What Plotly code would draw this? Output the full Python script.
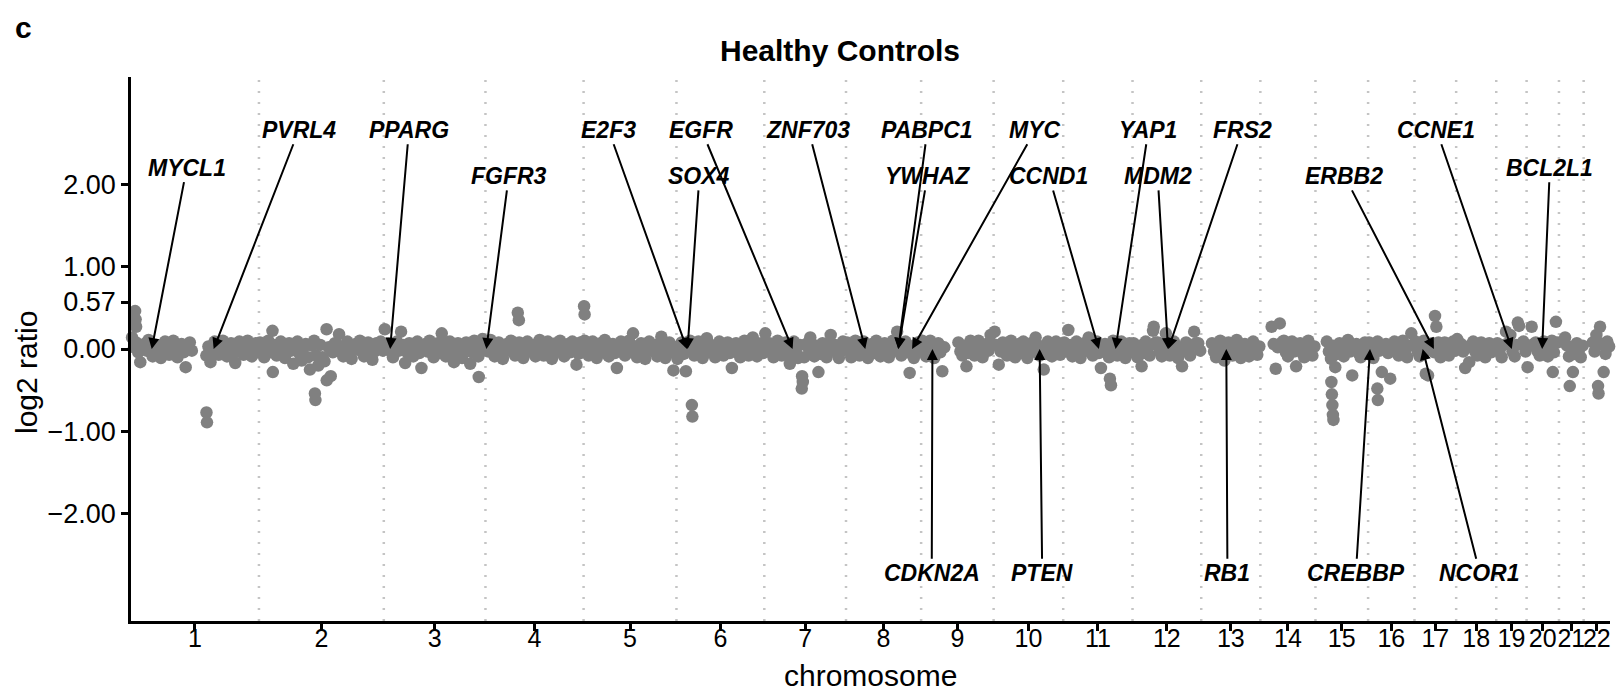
import plotly.graph_objects as go

# ---------------- data ----------------
chrom_names = [str(i) for i in range(1, 23)]
chrom_len_mb = [249.25, 243.20, 198.02, 191.15, 180.92, 171.12, 159.14, 146.36,
                141.21, 135.53, 135.01, 133.85, 115.17, 107.35, 102.53, 90.35,
                81.20, 78.08, 59.13, 63.03, 48.13, 51.30]
data_start_mb = [0, 0, 0, 0, 0, 0, 0, 0, 0, 0, 0, 0, 19, 20, 20, 0, 0, 0, 0, 0, 10, 16]

# binned log2 ratios read along each chromosome (None = no data)
chr1_vals = [0.14, 0.08, -0.16, 0.06, 0.11, -0.09, 0.05, -0.11, 0.09, -0.07, 0.10, -0.10, 0.06,
             -0.22, 0.08, None, None, None, -0.08, -0.16, 0.09, -0.07, 0.10, -0.09, 0.07, -0.17,
             0.09, -0.07, 0.10, -0.09, 0.07]
chr2_vals = [0.08, -0.10, 0.10, 0.22, -0.08, 0.09, -0.11, 0.07, -0.18, 0.09, -0.14, 0.06, -0.25,
             0.10, -0.20, -0.10, 0.24, -0.33, 0.07, 0.18, -0.09, 0.09, -0.12, 0.06, 0.10, -0.09,
             0.08, -0.13, 0.07, 0.09]
chr3_vals = [0.24, 0.07, -0.10, 0.09, 0.21, -0.17, 0.07, -0.09, 0.09, -0.23, 0.06, 0.10, -0.10,
             0.07, 0.19, -0.09, 0.09, -0.16, 0.07, -0.11, 0.08, -0.18, 0.10, -0.09, 0.12]
chr4_vals = [0.08, 0.11, -0.09, 0.08, -0.12, 0.06, 0.10, -0.08, 0.08, -0.11, 0.09, 0.05, -0.09,
             0.11, -0.08, 0.09, -0.12, 0.07, 0.10, -0.09, 0.06, 0.09, -0.19, 0.08]
chr5_vals = [0.10, -0.08, 0.09, -0.11, 0.07, 0.11, -0.09, 0.06, -0.23, 0.09, -0.08, 0.10, 0.19,
             -0.10, 0.07, -0.12, 0.09, 0.05, -0.09, 0.15, -0.11, 0.08, -0.26]
chr6_vals = [-0.12, 0.08, -0.27, 0.10, -0.08, 0.09, -0.11, 0.13, 0.05, -0.10, 0.09, -0.08, 0.08,
             -0.23, 0.07, -0.10, 0.10, -0.08, 0.14, -0.09, 0.07]
chr7_vals = [0.19, 0.07, -0.10, 0.10, -0.08, 0.08, -0.18, 0.09, -0.11, -0.33, 0.06, 0.14, -0.09,
             -0.28, 0.07, -0.10, 0.17, 0.05, -0.11, 0.09]
chr8_vals = [0.08, -0.10, 0.10, -0.08, 0.09, -0.11, 0.06, 0.10, -0.09, 0.07, -0.10, 0.10, 0.21,
             -0.08, 0.09, -0.29, -0.11, 0.08]
chr9_vals = [0.10, -0.09, 0.10, -0.11, 0.07, -0.27, None, None, None, 0.08, -0.08, -0.21, 0.10,
             -0.08, 0.10, -0.10, 0.06, 0.17]
chr10_vals = [0.21, -0.19, 0.08, -0.08, 0.10, -0.10, 0.06, 0.09, -0.11, 0.07, 0.14, -0.08, -0.25,
              0.09, -0.09, 0.09, -0.07]
chr11_vals = [0.08, 0.23, -0.09, 0.09, -0.11, 0.07, 0.14, -0.08, 0.09, -0.23, 0.06, -0.10, 0.10,
              -0.08, 0.09, -0.11, 0.07]
chr12_vals = [0.07, -0.10, -0.21, 0.09, -0.08, 0.27, 0.08, -0.09, 0.19, -0.08, 0.09, -0.11, -0.21,
              0.08, -0.08, 0.21, 0.07]
chr13_vals = [0.07, -0.10, 0.10, -0.14, 0.08, -0.08, 0.11, -0.11, 0.06, -0.09, 0.09, -0.07]
chr14_vals = [0.27, -0.24, 0.31, 0.10, -0.09, 0.09, -0.21, 0.07, -0.10, 0.10, -0.08]
chr15_vals = [0.09, -0.12, -0.22, 0.07, -0.09, 0.11, -0.32, 0.06, -0.10, 0.08]
chr16_vals = [0.08, -0.11, 0.09, -0.28, 0.06, -0.36, 0.09, -0.08, 0.10, -0.10, 0.19]
chr17_vals = [0.09, -0.09, 0.10, -0.32, 0.07, 0.27, -0.10, 0.08, -0.08, 0.09]
chr18_vals = [0.12, 0.06, -0.23, -0.16, 0.09, -0.08, 0.08, -0.10, 0.07, 0.05]
chr19_vals = [0.07, -0.10, 0.21, 0.17, -0.09, 0.28, 0.09]
chr20_vals = [-0.22, 0.27, 0.08, -0.08, 0.09, -0.09, 0.10, 0.33]
chr21_vals = [0.14, -0.09, -0.28, 0.07, -0.10]
chr22_vals = [0.08, 0.17, 0.27, -0.28, 0.09]

# finer core readings between the bins above (near-zero body of the band)
chr1_core = [0.02, -0.04, 0.05, -0.02, 0.03, -0.06, 0.04, -0.01, 0.02, -0.05, 0.03, 0.00, -0.04,
             0.05, -0.02, None, None, None, 0.03, -0.05, 0.02, 0.04, -0.03, 0.01, -0.06, 0.04,
             -0.02, 0.05, -0.03, 0.02, -0.04]
chr2_core = [-0.02, 0.03, -0.04, 0.05, 0.01, -0.05, 0.04, -0.02, 0.03, -0.06, 0.02, -0.10, 0.04,
             -0.08, 0.05, -0.15, 0.02, -0.04, 0.06, -0.02, 0.03, -0.05, 0.04, -0.01, 0.03, -0.05,
             0.02, -0.03, 0.05, -0.02]
chr3_core = [0.06, -0.03, 0.04, -0.02, 0.05, -0.04, 0.02, 0.06, -0.05, 0.03, -0.03, 0.04, 0.01,
             -0.05, 0.06, -0.02, 0.03, -0.05, 0.04, -0.02, 0.02, -0.04, 0.05, -0.03, 0.02]
chr4_core = [-0.03, 0.04, 0.02, -0.05, 0.03, -0.02, 0.05, -0.04, 0.02, 0.04, -0.03, 0.05, -0.02,
             0.03, -0.05, 0.02, 0.04, -0.03, 0.01, 0.05, -0.04, 0.02, -0.06, 0.03]
chr5_core = [0.03, 0.05, -0.03, 0.02, -0.04, 0.05, 0.02, -0.05, 0.03, -0.02, 0.05, -0.04, 0.03,
             0.02, -0.05, 0.04, -0.02, 0.05, -0.03, 0.02, 0.04, -0.04, 0.02]
chr6_core = [0.03, -0.06, 0.02, -0.03, 0.05, -0.02, 0.04, -0.04, 0.02, 0.05, -0.03, 0.03, -0.05,
             0.02, -0.04, 0.05, -0.02, 0.04, -0.03, 0.02, -0.05]
chr7_core = [0.05, -0.03, 0.04, -0.05, 0.02, -0.08, 0.03, -0.04, 0.05, -0.10, 0.02, -0.03, 0.04,
             -0.06, 0.03, 0.05, -0.02, 0.04, -0.03, 0.02]
chr8_core = [-0.02, 0.04, -0.04, 0.05, -0.02, 0.03, -0.05, 0.02, 0.04, -0.03, 0.05, -0.02, 0.06,
             0.02, -0.04, 0.03, 0.05, -0.03]
chr9_core = [-0.03, 0.04, -0.02, 0.05, -0.04, 0.02, None, None, None, -0.03, 0.04, -0.05, 0.02,
             0.05, -0.03, 0.04, -0.02, 0.05]
chr10_core = [0.05, -0.03, 0.02, 0.05, -0.04, 0.03, -0.05, 0.02, 0.04, -0.03, 0.05, -0.02, -0.06,
              0.03, 0.05, -0.03, 0.02]
chr11_core = [-0.03, 0.05, 0.02, -0.04, 0.03, -0.02, 0.05, 0.02, -0.05, 0.03, -0.03, 0.04, -0.02,
              0.05, -0.03, 0.02, -0.04]
chr12_core = [-0.02, 0.04, -0.05, 0.03, 0.05, 0.08, -0.03, 0.04, 0.06, -0.02, 0.03, -0.05, 0.02,
              -0.03, 0.05, 0.07, -0.02]
chr13_core = [-0.03, 0.05, -0.02, 0.03, -0.05, 0.04, -0.02, 0.03, -0.04, 0.05, -0.02, 0.03]
chr14_core = [0.06, 0.02, 0.08, -0.04, 0.03, -0.03, 0.02, -0.05, 0.04, -0.02, 0.03]
chr15_core = [-0.03, 0.04, -0.06, 0.02, 0.05, -0.03, 0.02, -0.05, 0.03, -0.02]
chr16_core = [-0.03, 0.04, -0.02, 0.02, -0.05, 0.03, -0.03, 0.05, -0.02, 0.04, 0.05]
chr17_core = [-0.03, 0.04, -0.02, 0.03, -0.04, 0.08, 0.02, -0.04, 0.05, -0.02]
chr18_core = [0.04, -0.03, 0.02, 0.05, -0.03, 0.03, -0.02, 0.04, -0.04, 0.05]
chr19_core = [-0.02, 0.05, 0.07, -0.03, 0.05, 0.06, -0.03]
chr20_core = [0.04, 0.06, -0.03, 0.04, -0.02, 0.05, -0.04, 0.08]
chr21_core = [0.04, 0.02, -0.06, -0.02, 0.04]
chr22_core = [-0.03, 0.05, 0.06, -0.06, 0.03]

# individual outlying bins: chromosome, position (Mb), log2 ratio
outlier_chrom = [1, 1, 1, 1, 1, 2, 2, 2, 2, 3, 4, 4, 5, 5, 6, 6, 7, 7, 11, 11, 12,
                 15, 15, 15, 15, 15, 16, 16, 17, 17, 19, 20, 21, 22, 22]
outlier_mb = [8, 9, 10, 147, 148, 27, 109, 110, 132, 185, 63, 65, 1, 2, 30, 31, 73, 75, 91, 93, 40,
              31, 32, 33, 34, 35, 18, 19, 40, 22, 42, 51, 21, 28, 29]
outlier_val = [0.46, 0.36, 0.27, -0.77, -0.89, -0.28, -0.54, -0.62, -0.38, -0.34, 0.44, 0.35,
               0.52, 0.42, -0.68, -0.82, -0.48, -0.40, -0.36, -0.44, 0.22,
               -0.40, -0.55, -0.68, -0.80, -0.86, -0.48, -0.62, 0.40, -0.30, 0.32, -0.28,
               -0.45, -0.45, -0.54]

# annotated genes: name, chromosome, position (Mb)
gene_names = ["MYCL1", "PVRL4", "PPARG", "FGFR3", "E2F3", "SOX4", "EGFR", "ZNF703", "PABPC1",
              "YWHAZ", "MYC", "CDKN2A", "PTEN", "CCND1", "YAP1", "MDM2", "FRS2", "RB1", "CREBBP",
              "NCOR1", "ERBB2", "CCNE1", "BCL2L1"]
gene_chrom = [1, 1, 3, 4, 6, 6, 7, 8, 8, 8, 8, 9, 10, 11, 11, 12, 12, 13, 16, 17, 17, 19, 20]
gene_mb = [40.36, 161.04, 12.33, 1.80, 20.40, 21.59, 55.09, 37.55, 101.70, 101.93, 128.75, 21.97,
           89.62, 69.46, 101.98, 69.20, 69.86, 48.88, 3.78, 15.93, 37.84, 30.30, 30.25]

y_tick_vals = [-2, -1, 0, 0.57, 1, 2]
y_tick_text = ["\u22122.00", "\u22121.00", "0.00", "0.57", "1.00", "2.00"]

# ---------------- layout helpers (label placement, genome Mb / log2 units) ----------------
label_place = {
    "MYCL1": (108.7, 2.2), "PVRL4": (327.2, 2.66), "PPARG": (541.5, 2.66),
    "FGFR3": (735.9, 2.1), "E2F3": (930.1, 2.66), "SOX4": (1107.3, 2.1),
    "EGFR": (1111.2, 2.66), "ZNF703": (1319.6, 2.66), "PABPC1": (1551.4, 2.66),
    "YWHAZ": (1551.4, 2.1), "MYC": (1761.8, 2.66), "CCND1": (1788.1, 2.1),
    "YAP1": (1981.9, 2.66), "MDM2": (1999.9, 2.1), "FRS2": (2164.8, 2.66),
    "ERBB2": (2363.8, 2.1), "CCNE1": (2542.8, 2.66), "BCL2L1": (2763.9, 2.2),
    "CDKN2A": (1559.8, -2.72), "PTEN": (1775.0, -2.72), "RB1": (2135.8, -2.72),
    "CREBBP": (2386.0, -2.72), "NCOR1": (2627.6, -2.72),
}

main_vals = [chr1_vals, chr2_vals, chr3_vals, chr4_vals, chr5_vals, chr6_vals, chr7_vals,
             chr8_vals, chr9_vals, chr10_vals, chr11_vals, chr12_vals, chr13_vals, chr14_vals,
             chr15_vals, chr16_vals, chr17_vals, chr18_vals, chr19_vals, chr20_vals,
             chr21_vals, chr22_vals]
core_vals = [chr1_core, chr2_core, chr3_core, chr4_core, chr5_core, chr6_core, chr7_core,
             chr8_core, chr9_core, chr10_core, chr11_core, chr12_core, chr13_core, chr14_core,
             chr15_core, chr16_core, chr17_core, chr18_core, chr19_core, chr20_core,
             chr21_core, chr22_core]

offsets = []
acc = 0.0
for L in chrom_len_mb:
    offsets.append(acc)
    acc += L
genome_len = acc
centers = [o + L / 2 for o, L in zip(offsets, chrom_len_mb)]
boundaries = offsets[1:]

xs, ys = [], []
for ci in range(len(chrom_len_mb)):
    start = data_start_mb[ci]
    for vals, shift in ((main_vals[ci], 0.25), (core_vals[ci], 0.75)):
        step = (chrom_len_mb[ci] - start) / len(vals)
        for i, v in enumerate(vals):
            if v is None:
                continue
            xs.append(offsets[ci] + start + (i + shift) * step)
            ys.append(v)
for c, p, v in zip(outlier_chrom, outlier_mb, outlier_val):
    xs.append(offsets[c - 1] + p)
    ys.append(v)

FONT = "Liberation Sans, Arial, Helvetica, sans-serif"

fig = go.Figure()
fig.add_trace(go.Scatter(
    x=xs, y=ys, mode="markers",
    marker=dict(size=12.5, color="#808080", line=dict(width=0)),
    cliponaxis=False, hoverinfo="skip", showlegend=False))

shapes = []
for b in boundaries:
    shapes.append(dict(type="line", xref="x", yref="paper", x0=b, x1=b, y0=0, y1=1,
                       line=dict(color="#c4c4c4", width=2.5, dash="2px,9px"), layer="below"))

annotations = []
for name, c, p in zip(gene_names, gene_chrom, gene_mb):
    lx, ly = label_place[name]
    annotations.append(dict(
        x=offsets[c - 1] + p, y=0, xref="x", yref="y",
        ax=lx, ay=ly, axref="x", ayref="y",
        text="<b><i>%s</i></b>" % name, showarrow=True,
        arrowhead=2, arrowsize=1.1, arrowwidth=2, arrowcolor="black",
        standoff=0, startstandoff=0,
        font=dict(family=FONT, size=23, color="black")))

annotations += [
    dict(text="<b>Healthy Controls</b>", xref="paper", yref="paper", x=0.4794, y=1.0496,
         xanchor="center", yanchor="middle", showarrow=False,
         font=dict(family=FONT, size=30, color="black")),
    dict(text="<b>c</b>", xref="paper", yref="paper", x=-0.0730, y=1.0901,
         xanchor="center", yanchor="middle", showarrow=False,
         font=dict(family=FONT, size=30, color="black")),
    dict(text="log2 ratio", xref="paper", yref="paper", x=-0.0710, y=0.4577, textangle=-90,
         xanchor="center", yanchor="middle", showarrow=False,
         font=dict(family=FONT, size=30, color="black")),
    dict(text="chromosome", xref="paper", yref="paper", x=0.5, y=-0.0993,
         xanchor="center", yanchor="middle", showarrow=False,
         font=dict(family=FONT, size=30, color="black")),
]

fig.update_layout(
    width=1618, height=694,
    margin=dict(l=131, r=8, t=77, b=73),
    paper_bgcolor="white", plot_bgcolor="white",
    shapes=shapes, annotations=annotations,
    font=dict(family=FONT, color="black"),
    xaxis=dict(range=[0, genome_len], tickvals=centers, ticktext=chrom_names, tickangle=0,
               ticklabelstandoff=-14,
               showgrid=False, zeroline=False, showline=True, linecolor="black", linewidth=2.5,
               ticks="outside", ticklen=7, tickwidth=2.5, tickcolor="black",
               tickfont=dict(family=FONT, size=25, color="black")),
    yaxis=dict(range=[-3.3, 3.3], tickvals=y_tick_vals, ticktext=y_tick_text,
               showgrid=False, zeroline=False, showline=True, linecolor="black", linewidth=2.5,
               ticks="outside", ticklen=7, tickwidth=2.5, tickcolor="black",
               tickfont=dict(family=FONT, size=27, color="black")),
)

fig.write_html("out.html")
